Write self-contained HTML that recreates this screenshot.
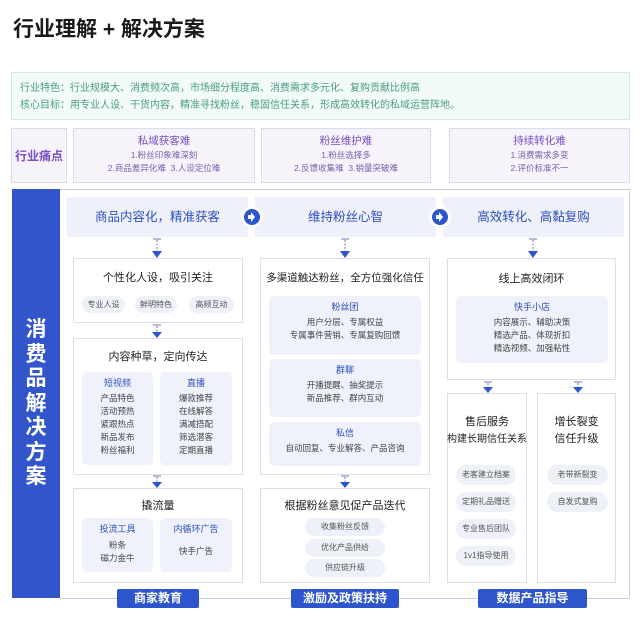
<!DOCTYPE html>
<html><head><meta charset="utf-8"><style>
*{margin:0;padding:0;box-sizing:border-box}
body{width:640px;height:623px;background:#fff;position:relative;overflow:hidden;font-family:"Liberation Sans","Noto Sans CJK SC",sans-serif;color:#333}
.a{position:absolute}
.t{position:absolute;text-align:center;white-space:nowrap}
.box{position:absolute;border:1px solid #dcdfe8;background:#fff}
.sub{position:absolute;background:#eff2fa;border-radius:5px}
.chip{position:absolute;background:#eef1f8;border-radius:9px;font-size:8px;color:#555;text-align:center;white-space:nowrap}
.hd{position:absolute;background:#eef1fa;color:#2d4fbf;font-size:12.5px;text-align:center;white-space:nowrap}
.bl{color:#2d4fbf}
.it{font-size:8.5px;color:#444;line-height:13px}
.ttl{font-size:11px;color:#222}
.lab{position:absolute;background:#2d55cc;color:#fff;font-size:12px;font-weight:bold;text-align:center;border-radius:2px;height:19px;line-height:19px}
</style></head><body>
<div class="a" style="left:13px;top:13px;font-size:21px;font-weight:bold;color:#1a1a1a">行业理解 + 解决方案</div>

<div class="a" style="left:11px;top:72px;width:619px;height:48px;background:#f3fbf9;border:1px solid #dde4e4"></div>
<div class="a" style="left:20px;top:80px;font-size:10px;color:#4a9b86;line-height:17px">行业特色：行业规模大、消费频次高，市场细分程度高、消费需求多元化、复购贡献比例高<br>核心目标：用专业人设、干货内容，精准寻找粉丝，稳固信任关系，形成高效转化的私域运营阵地。</div>

<div class="a" style="left:11px;top:128px;width:56px;height:55px;background:#f6f3fb;border:1px solid #dcdbe6"></div>
<div class="t" style="left:11px;top:147px;width:56px;font-size:12px;color:#7a4fc0;font-weight:bold">行业痛点</div>
<div class="a" style="left:73px;top:128px;width:182px;height:55px;background:#f6f3fb;border:1px solid #dcdbe6"></div>
<div class="a" style="left:261px;top:128px;width:170px;height:55px;background:#f6f3fb;border:1px solid #dcdbe6"></div>
<div class="a" style="left:449px;top:128px;width:181px;height:55px;background:#f6f3fb;border:1px solid #dcdbe6"></div>
<div class="t" style="left:73px;top:133px;width:182px;font-size:10.5px;color:#7a4fc0">私域获客难</div>
<div class="t" style="left:73px;top:149px;width:182px;font-size:8.5px;color:#7a5fb0;line-height:13px">1.粉丝印象难深刻<br>2.商品差异化难&nbsp;&nbsp;3.人设定位难</div>
<div class="t" style="left:261px;top:133px;width:170px;font-size:10.5px;color:#7a4fc0">粉丝维护难</div>
<div class="t" style="left:261px;top:149px;width:170px;font-size:8.5px;color:#7a5fb0;line-height:13px">1.粉丝选择多<br>2.反馈收集难&nbsp;&nbsp;3.销量突破难</div>
<div class="t" style="left:449px;top:133px;width:181px;font-size:10.5px;color:#7a4fc0">持续转化难</div>
<div class="t" style="left:449px;top:149px;width:181px;font-size:8.5px;color:#7a5fb0;line-height:13px">1.消费需求多变<br>2.评价标准不一</div>

<div class="a" style="left:12px;top:189px;width:618px;height:409px;border:1px solid #c8cde0;border-left:none"></div>
<div class="a" style="left:12px;top:189px;width:48px;height:409px;background:#3355cc"></div>
<div class="a" style="left:12px;top:318px;width:48px;text-align:center;color:#fff;font-size:21px;font-weight:bold;line-height:24.5px">消<br>费<br>品<br>解<br>决<br>方<br>案</div>

<div class="hd" style="left:67px;top:197px;width:181px;height:40px;line-height:40px">商品内容化，精准获客</div>
<div class="hd" style="left:255px;top:197px;width:181px;height:40px;line-height:40px">维持粉丝心智</div>
<div class="hd" style="left:443px;top:197px;width:181px;height:40px;line-height:40px">高效转化、高黏复购</div>
<svg class="a" style="left:0;top:0" width="640" height="623">
<g fill="#2d55cc"><circle cx="252" cy="217" r="11" fill="#fff"/><circle cx="252" cy="217" r="8"/><circle cx="440" cy="217" r="11" fill="#fff"/><circle cx="440" cy="217" r="8"/></g>
<g fill="#fff"><path d="M248 215h3v-3l4 5-4 5v-3h-3z"/><path d="M436 215h3v-3l4 5-4 5v-3h-3z"/></g>
<g stroke="#6a7ab0" stroke-width="1" stroke-dasharray="2,1.5" fill="none">
<path d="M157 240v12M345 240v12M533 240v12M157 326v7M157 477v6M345 477v6M488 383v5M578 383v5"/></g>
<g stroke="#6a7ab0" stroke-width="1"><path d="M153 239h8M341 239h8M529 239h8M153 325h8M153 476h8M341 476h8M484 382h8M574 382h8"/></g>
<g fill="#2d55cc"><path d="M152 251h10l-5 7z"/><path d="M340 251h10l-5 7z"/><path d="M528 251h10l-5 7z"/><path d="M152 332h10l-5 6z"/><path d="M152 482h10l-5 6z"/><path d="M340 482h10l-5 6z"/><path d="M483 387h10l-5 6z"/><path d="M573 387h10l-5 6z"/></g>
</svg>

<div class="box" style="left:73px;top:258px;width:170px;height:65px"></div>
<div class="t ttl" style="left:73px;top:269px;width:170px">个性化人设，吸引关注</div>
<div class="chip" style="left:82px;top:296px;width:43px;height:17px;line-height:17px">专业人设</div>
<div class="chip" style="left:135px;top:296px;width:42px;height:17px;line-height:17px">鲜明特色</div>
<div class="chip" style="left:189px;top:296px;width:45px;height:17px;line-height:17px">高频互动</div>

<div class="box" style="left:73px;top:338px;width:170px;height:137px"></div>
<div class="t ttl" style="left:73px;top:348px;width:170px">内容种草，定向传达</div>
<div class="sub" style="left:82px;top:372px;width:71px;height:93px"></div>
<div class="sub" style="left:160px;top:372px;width:72px;height:93px"></div>
<div class="t" style="left:82px;top:377px;width:71px;font-size:9px;line-height:12px"><span class="bl">短视频</span><div class="it" style="margin-top:3px">产品特色<br>活动预热<br>紧跟热点<br>新品发布<br>粉丝福利</div></div>
<div class="t" style="left:160px;top:377px;width:72px;font-size:9px;line-height:12px"><span class="bl">直播</span><div class="it" style="margin-top:3px">爆款推荐<br>在线解答<br>满减搭配<br>筛选潜客<br>定期直播</div></div>

<div class="box" style="left:73px;top:488px;width:170px;height:95px"></div>
<div class="t ttl" style="left:73px;top:497px;width:170px">撬流量</div>
<div class="sub" style="left:82px;top:518px;width:71px;height:54px"></div>
<div class="sub" style="left:160px;top:518px;width:72px;height:54px"></div>
<div class="t" style="left:82px;top:523px;width:71px;font-size:9px;line-height:12px"><span class="bl">投流工具</span><div class="it" style="margin-top:4px">粉条<br>磁力金牛</div></div>
<div class="t" style="left:160px;top:523px;width:72px;font-size:9px;line-height:12px"><span class="bl">内循环广告</span><div class="it" style="margin-top:10px">快手广告</div></div>

<div class="box" style="left:260px;top:258px;width:170px;height:217px"></div>
<div class="t ttl" style="left:260px;top:270px;width:170px;font-size:10.5px">多渠道触达粉丝，全方位强化信任</div>
<div class="sub" style="left:269px;top:296px;width:152px;height:59px"></div>
<div class="t" style="left:269px;top:301px;width:152px;font-size:9px;line-height:12px"><span class="bl">粉丝团</span><div class="it" style="margin-top:3px">用户分层、专属权益<br>专属事件营销、专属复购回馈</div></div>
<div class="sub" style="left:269px;top:359px;width:152px;height:58px"></div>
<div class="t" style="left:269px;top:364px;width:152px;font-size:9px;line-height:12px"><span class="bl">群聊</span><div class="it" style="margin-top:3px">开播提醒、抽奖提示<br>新品推荐、群内互动</div></div>
<div class="sub" style="left:269px;top:422px;width:152px;height:44px"></div>
<div class="t" style="left:269px;top:427px;width:152px;font-size:9px;line-height:12px"><span class="bl">私信</span><div class="it" style="margin-top:3px">自动回复、专业解答、产品咨询</div></div>

<div class="box" style="left:260px;top:488px;width:170px;height:95px"></div>
<div class="t ttl" style="left:260px;top:497px;width:170px">根据粉丝意见促产品迭代</div>
<div class="chip" style="left:305px;top:518px;width:80px;height:18px;line-height:18px">收集粉丝反馈</div>
<div class="chip" style="left:305px;top:539px;width:80px;height:18px;line-height:18px">优化产品供给</div>
<div class="chip" style="left:305px;top:559px;width:80px;height:18px;line-height:18px">供应链升级</div>

<div class="box" style="left:447px;top:258px;width:169px;height:122px"></div>
<div class="t ttl" style="left:447px;top:270px;width:169px">线上高效闭环</div>
<div class="sub" style="left:456px;top:296px;width:152px;height:67px"></div>
<div class="t" style="left:456px;top:301px;width:152px;font-size:9px;line-height:12px"><span class="bl">快手小店</span><div class="it" style="margin-top:3px">内容展示、辅助决策<br>精选产品、体现折扣<br>精选视频、加强粘性</div></div>

<div class="box" style="left:447px;top:393px;width:80px;height:190px"></div>
<div class="box" style="left:537px;top:393px;width:79px;height:190px"></div>
<div class="t" style="left:447px;top:414px;width:80px;font-size:11px;line-height:17px;color:#222">售后服务<br><span style="font-size:10px">构建长期信任关系</span></div>
<div class="t" style="left:537px;top:414px;width:79px;font-size:11px;line-height:17px;color:#222">增长裂变<br>信任升级</div>
<div class="chip" style="left:456px;top:465px;width:60px;height:20px;line-height:20px;border-radius:10px">老客建立档案</div>
<div class="chip" style="left:456px;top:492px;width:60px;height:20px;line-height:20px;border-radius:10px">定期礼品赠送</div>
<div class="chip" style="left:456px;top:519px;width:60px;height:20px;line-height:20px;border-radius:10px">专业售后团队</div>
<div class="chip" style="left:456px;top:546px;width:60px;height:20px;line-height:20px;border-radius:10px">1v1指导使用</div>
<div class="chip" style="left:547px;top:465px;width:61px;height:20px;line-height:20px;border-radius:10px">老带新裂变</div>
<div class="chip" style="left:547px;top:492px;width:61px;height:20px;line-height:20px;border-radius:10px">自发式复购</div>

<div class="a" style="left:60px;top:597px;width:570px;height:4px;background:#fff"></div>
<div class="a" style="left:60px;top:598px;width:570px;height:1px;background:#c8cde0"></div>
<div class="lab" style="left:117px;top:589px;width:82px">商家教育</div>
<div class="lab" style="left:291px;top:589px;width:108px">激励及政策扶持</div>
<div class="lab" style="left:478px;top:589px;width:109px">数据产品指导</div>
</body></html>
